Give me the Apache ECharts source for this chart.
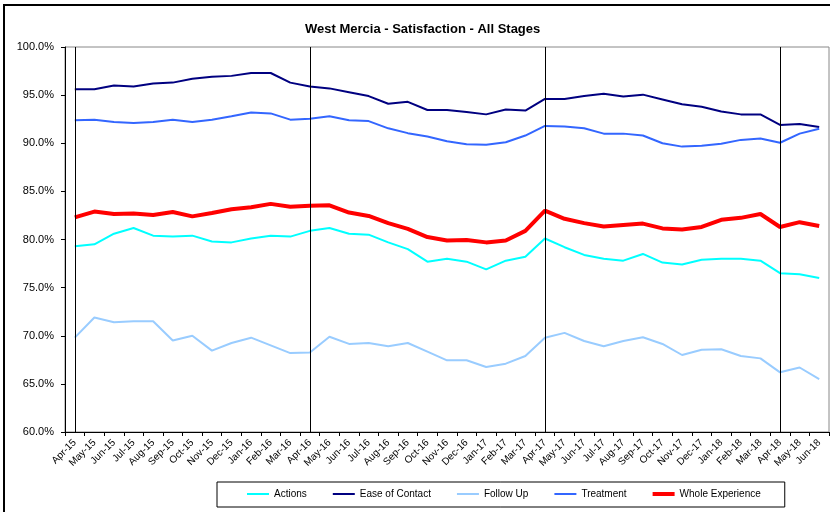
<!DOCTYPE html>
<html>
<head>
<meta charset="utf-8">
<script src="https://cdn.jsdelivr.net/npm/echarts@6/dist/echarts.min.js"></script>
<style>
  html, body { margin: 0; padding: 0; background: #fff; }
  #chart { width: 830px; height: 512px; }
</style>
</head>
<body>
<div id="chart"></div>
<script>
// months on the x axis
var months = ['Apr-15','May-15','Jun-15','Jul-15','Aug-15','Sep-15','Oct-15','Nov-15','Dec-15','Jan-16','Feb-16','Mar-16',
  'Apr-16','May-16','Jun-16','Jul-16','Aug-16','Sep-16','Oct-16','Nov-16','Dec-16','Jan-17','Feb-17','Mar-17',
  'Apr-17','May-17','Jun-17','Jul-17','Aug-17','Sep-17','Oct-17','Nov-17','Dec-17','Jan-18','Feb-18','Mar-18',
  'Apr-18','May-18','Jun-18'];
// year markers (vertical lines)
var yearStarts = ['Apr-15','Apr-16','Apr-17','Apr-18'];

// satisfaction, percent
var actions = [79.3,79.5,80.6,81.2,80.4,80.3,80.4,79.8,79.7,80.1,80.4,80.3,80.9,
  81.2,80.6,80.5,79.7,79.0,77.7,78.0,77.7,76.9,77.8,78.2,
  80.1,79.2,78.4,78.0,77.8,78.5,77.6,77.4,77.9,78.0,78.0,77.8,76.5,76.4,76.0];
var easeOfContact = [95.6,95.6,96.0,95.9,96.2,96.3,96.7,96.9,97.0,97.3,97.3,96.3,95.9,
  95.7,95.3,94.9,94.1,94.3,93.45,93.45,93.25,93.0,93.5,93.4,
  94.6,94.6,94.9,95.15,94.85,95.05,94.55,94.05,93.8,93.3,93.0,93.0,91.9,92.0,91.7];
var followUp = [69.8,71.9,71.4,71.5,71.5,69.5,70.0,68.45,69.25,69.8,69.0,68.2,68.25,
  69.9,69.15,69.25,68.9,69.25,68.35,67.45,67.45,66.75,67.1,67.9,
  69.8,70.3,69.45,68.9,69.45,69.85,69.15,68.0,68.55,68.6,67.9,67.65,66.2,66.7,65.5];
var treatment = [92.4,92.45,92.2,92.1,92.2,92.45,92.2,92.45,92.8,93.2,93.1,92.45,92.55,
  92.8,92.4,92.3,91.55,91.05,90.7,90.2,89.9,89.85,90.1,90.8,
  91.8,91.75,91.55,91.0,91.0,90.8,90.0,89.65,89.75,89.95,90.35,90.5,90.05,91.0,91.5];
var wholeExperience = [82.3,82.9,82.65,82.7,82.55,82.85,82.4,82.75,83.15,83.35,83.7,83.4,83.5,
  83.55,82.8,82.45,81.7,81.1,80.25,79.9,79.95,79.7,79.9,80.9,
  83.0,82.15,81.7,81.35,81.5,81.65,81.15,81.05,81.3,82.05,82.25,82.65,81.3,81.8,81.4];

var font = 'Liberation Sans, Arial, sans-serif';
// legend icons: thin bar centred in a 4px-high box, thick bar fills it
var thinIcon = 'path://M0,0M0,4M0,1H22V3H0Z';
var thickIcon = 'path://M0,0H22V4H0Z';

function lineSeries(name, data, color, width) {
  return {
    name: name,
    type: 'line',
    data: data,
    symbol: 'none',
    lineStyle: { color: color, width: width },
    itemStyle: { color: color }
  };
}

var series = [
  lineSeries('Actions', actions, '#00FFFF', 2),
  lineSeries('Ease of Contact', easeOfContact, '#000080', 2),
  lineSeries('Follow Up', followUp, '#99CCFF', 2),
  lineSeries('Treatment', treatment, '#3366FF', 2),
  lineSeries('Whole Experience', wholeExperience, '#FF0000', 4)
];
// vertical year lines
series[0].markLine = {
  silent: true,
  symbol: ['none', 'none'],
  label: { show: false },
  lineStyle: { color: '#000', width: 1, type: 'solid' },
  data: yearStarts.map(function (m) { return { xAxis: m }; })
};
series[0].z = 1;

var chart = echarts.init(document.getElementById('chart'));
chart.setOption({
  animation: false,
  backgroundColor: '#fff',
  textStyle: { fontFamily: font },
  title: {
    text: 'West Mercia - Satisfaction - All Stages',
    left: 300,
    top: 18,
    textStyle: { fontSize: 13, fontWeight: 'bold', color: '#000', fontFamily: font }
  },
  graphic: [{
    type: 'rect',
    shape: { x: 4, y: 5, width: 840, height: 530 },
    style: { fill: 'none', stroke: '#000', lineWidth: 2 },
    silent: true
  }],
  grid: {
    left: 65, top: 47, right: 1, bottom: 80,
    show: true, borderColor: '#888', borderWidth: 1
  },
  legend: {
    left: 217,
    top: 482,
    padding: [7, 24, 8, 30],
    itemGap: 26,
    itemWidth: 22,
    itemHeight: 4,
    borderColor: '#000',
    borderWidth: 1,
    textStyle: { fontSize: 10, color: '#000', fontFamily: font },
    data: series.map(function (s) {
      return { name: s.name, icon: s.lineStyle.width > 2 ? thickIcon : thinIcon };
    })
  },
  xAxis: {
    type: 'category',
    data: months,
    boundaryGap: true,
    axisLine: { lineStyle: { color: '#000', width: 1 } },
    axisTick: { show: true, length: 4, lineStyle: { color: '#000' } },
    axisLabel: { interval: 0, rotate: 45, fontSize: 10, color: '#000', margin: 9, fontFamily: font },
    splitLine: { show: false }
  },
  yAxis: {
    type: 'value',
    min: 60,
    max: 100,
    interval: 5,
    axisLine: { show: true, lineStyle: { color: '#000', width: 1 } },
    axisTick: { show: true, length: 4, lineStyle: { color: '#000' } },
    axisLabel: {
      fontSize: 11, color: '#000', margin: 11, fontFamily: font,
      formatter: function (v) { return v.toFixed(1) + '%'; }
    },
    splitLine: { show: false }
  },
  series: series
});
</script>
</body>
</html>
